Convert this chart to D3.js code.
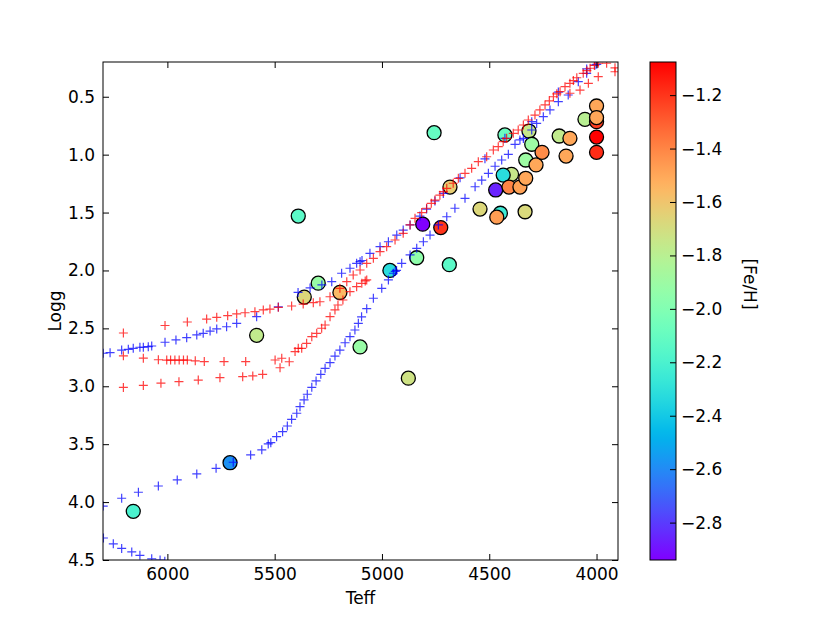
<!DOCTYPE html>
<html>
<head>
<meta charset="utf-8">
<script src="https://cdn.jsdelivr.net/npm/d3@7"></script>
<style>
  body { margin: 0; background: #fff; }
  svg { display: block; font-family: "DejaVu Sans", sans-serif; }
</style>
</head>
<body>
<svg id="chart" width="830" height="623"></svg>
<script>
// ---- stars: Teff, logg, [Fe/H] (drawn in this order) ----
const starTeff = [5390, 5362, 5297, 5196, 5584, 5708, 6159, 5102, 4877, 4963,
  4838, 4686, 4810, 4726, 4757, 4683, 4543, 4448, 4465, 4470,
  4396, 4435, 4408, 4357, 4330, 4333, 4427, 4315, 4302, 4330,
  4282, 4254, 4174, 4124, 4142, 4054, 4000, 4000, 4000, 4000, 4000];
const starLogg = [1.53, 2.23, 2.11, 2.19, 2.56, 3.66, 4.08, 2.66, 2.93, 2.00,
  1.89, 1.95, 1.60, 1.63, 0.81, 1.28, 1.47, 1.506, 1.54, 1.305,
  1.17, 1.176, 1.28, 1.28, 1.204, 1.493, 0.83, 0.796, 0.91, 1.046,
  1.089, 0.98, 0.839, 0.859, 1.012, 0.695, 0.715, 0.58, 0.68, 0.848, 0.98];
const starFeh = [-2.14, -1.67, -1.92, -1.56, -1.77, -2.58, -2.20, -1.92, -1.72, -2.32,
  -1.95, -2.14, -2.94, -1.20, -2.10, -1.63, -1.67, -2.25, -1.47, -2.86,
  -1.75, -2.32, -1.40, -1.48, -1.50, -1.68, -2.08, -1.75, -1.90, -1.90,
  -1.50, -1.42, -1.77, -1.50, -1.50, -1.80, -1.22, -1.50, -1.50, -1.076, -1.18];

// ---- isochrone tracks [Teff, logg] ----
const blueMS = [[6298, 4.31], [6252, 4.36], [6213, 4.40], [6166, 4.43], [6128, 4.46],
  [6073, 4.49], [6034, 4.50], [6012, 4.51]];
const blueRGB = [[6299, 4.034], [6213, 3.967], [6135, 3.915], [6042, 3.861], [5954, 3.809],
  [5863, 3.757], [5773, 3.708], [5693, 3.656], [5612, 3.593], [5560, 3.549], [5530, 3.498],
  [5518, 3.487], [5491, 3.435], [5463, 3.392], [5441, 3.343], [5421, 3.285], [5397, 3.233],
  [5382, 3.176], [5363, 3.118], [5348, 3.069], [5327, 3.009], [5307, 2.954], [5285, 2.897],
  [5265, 2.845], [5242, 2.796], [5219, 2.739], [5196, 2.687], [5172, 2.624], [5149, 2.572],
  [5126, 2.514], [5110, 2.456], [5095, 2.40], [5071, 2.33], [5040, 2.24], [5001, 2.154],
  [4970, 2.082], [4947, 2.024], [4938, 2.008], [4932, 2.0], [4908, 1.938], [4869, 1.866],
  [4838, 1.809], [4807, 1.752], [4776, 1.694], [4737, 1.607], [4698, 1.536], [4660, 1.463],
  [4613, 1.377], [4566, 1.277], [4535, 1.22], [4504, 1.161], [4473, 1.10], [4442, 1.046],
  [4411, 0.997], [4380, 0.911], [4357, 0.873], [4341, 0.86], [4302, 0.787], [4279, 0.73],
  [4248, 0.672], [4217, 0.614], [4178, 0.543], [4132, 0.485], [4085, 0.37], [4046, 0.298],
  [4007, 0.226]];
const blueHB = [[6299, 2.715], [6267, 2.71], [6213, 2.687], [6182, 2.681], [6159, 2.672],
  [6128, 2.663], [6112, 2.663], [6089, 2.658], [6073, 2.652], [6011, 2.62], [5960, 2.60],
  [5910, 2.58], [5863, 2.557], [5833, 2.543], [5801, 2.523], [5770, 2.505], [5724, 2.486],
  [5677, 2.456], [5584, 2.399], [5483, 2.315], [5391, 2.19], [5335, 2.151], [5280, 2.125],
  [5234, 2.097], [5188, 2.024], [5149, 1.981], [5118, 1.938], [5102, 1.924], [5093, 1.914],
  [5056, 1.852], [5009, 1.795], [4970, 1.752], [4931, 1.694], [4901, 1.651], [4869, 1.607],
  [4823, 1.53], [4792, 1.47], [4753, 1.40], [4714, 1.335], [4636, 1.20], [4520, 1.036],
  [4427, 0.859], [4302, 0.715], [4178, 0.46], [4046, 0.26], [3999, 0.22]];
const redHB = [[6205, 2.54], [6011, 2.475], [5907, 2.445], [5817, 2.42], [5770, 2.405],
  [5719, 2.39], [5677, 2.375], [5638, 2.365], [5592, 2.356], [5553, 2.341], [5522, 2.333],
  [5483, 2.318], [5421, 2.307], [5367, 2.29], [5320, 2.278], [5289, 2.27], [5242, 2.227],
  [5196, 2.154], [5164, 2.097], [5134, 2.039], [5102, 1.996], [5071, 1.938], [5040, 1.895],
  [5009, 1.838], [4978, 1.795], [4939, 1.737], [4901, 1.679], [4869, 1.607], [4846, 1.55],
  [4815, 1.50], [4792, 1.463], [4770, 1.42], [4753, 1.392], [4730, 1.35], [4714, 1.32],
  [4698, 1.291], [4668, 1.247], [4644, 1.204], [4613, 1.161], [4582, 1.118], [4551, 1.061],
  [4512, 1.018], [4481, 0.96], [4458, 0.931], [4435, 0.888], [4419, 0.859], [4388, 0.816],
  [4365, 0.787], [4341, 0.744], [4318, 0.701], [4287, 0.658], [4264, 0.614], [4240, 0.571],
  [4220, 0.535], [4201, 0.50], [4185, 0.475], [4170, 0.456], [4147, 0.413], [4124, 0.384],
  [4108, 0.36], [4092, 0.336], [4062, 0.298], [4045, 0.275], [4030, 0.254], [4010, 0.23],
  [3992, 0.211], [3953, 0.211], [3914, 0.25], [4124, 0.47], [4077, 0.442], [4038, 0.384],
  [3992, 0.327], [3914, 0.284]];
const redRGB = [[6205, 2.737], [6112, 2.757], [6042, 2.771], [6003, 2.774], [5985, 2.774],
  [5965, 2.774], [5945, 2.774], [5925, 2.774], [5907, 2.774], [5870, 2.78], [5828, 2.787],
  [5736, 2.787], [5635, 2.787], [5498, 2.773], [5467, 2.758], [5432, 2.788], [5405, 2.70],
  [5390, 2.672], [5374, 2.672], [5351, 2.629], [5327, 2.572], [5304, 2.543], [5281, 2.499],
  [5265, 2.471], [5242, 2.399], [5219, 2.341], [5205, 2.298], [5182, 2.255], [5149, 2.183],
  [5118, 2.14], [5094, 2.111], [5071, 2.082], [5078, 2.09]];
const redLow = [[6205, 3.01], [6112, 2.993], [6030, 2.973], [5946, 2.96], [5856, 2.946],
  [5755, 2.926], [5649, 2.917], [5602, 2.911], [5556, 2.897], [5475, 2.84]];

const teffTicks = [6000, 5500, 5000, 4500, 4000];
const loggTicks = [0.5, 1.0, 1.5, 2.0, 2.5, 3.0, 3.5, 4.0, 4.5];
const fehTicks = [-2.8, -2.6, -2.4, -2.2, -2.0, -1.8, -1.6, -1.4, -1.2];

// ---- layout ----
const plot = { left: 103, right: 618, top: 62, bottom: 560 };
const cbar = { left: 650, right: 676 };

const svg = d3.select('#chart');

const x = d3.scaleLinear().domain([6300, 3900]).range([plot.left, plot.right]);
const y = d3.scaleLinear().domain([0.2, 4.5]).range([plot.top, plot.bottom]);
const fehExtent = d3.extent(starFeh);
const c = d3.scaleLinear().domain(fehExtent).range([plot.bottom, plot.top]);

// matplotlib "rainbow" colormap
function rainbow(t) {
  const cl = v => Math.max(0, Math.min(1, v));
  const r = cl(Math.abs(2 * t - 0.5));
  const g = cl(Math.sin(Math.PI * t));
  const b = cl(Math.cos(Math.PI * t / 2));
  return d3.rgb(r * 255, g * 255, b * 255).formatHex();
}
const color = v => rainbow((v - fehExtent[0]) / (fehExtent[1] - fehExtent[0]));

const defs = svg.append('defs');
defs.append('clipPath').attr('id', 'clip')
  .append('rect')
  .attr('x', plot.left).attr('y', plot.top)
  .attr('width', plot.right - plot.left).attr('height', plot.bottom - plot.top);

const grad = defs.append('linearGradient').attr('id', 'cgrad')
  .attr('x1', 0).attr('y1', 1).attr('x2', 0).attr('y2', 0);
grad.selectAll('stop')
  .data(d3.range(0, 1.0001, 0.02))
  .join('stop')
  .attr('offset', d => d)
  .attr('stop-color', d => rainbow(d));

// ---- stars (under the tracks) ----
const gData = svg.append('g').attr('clip-path', 'url(#clip)');

gData.append('g').selectAll('circle')
  .data(starTeff.map((t, i) => ({ t, g: starLogg[i], f: starFeh[i] })))
  .join('circle')
  .attr('cx', d => x(d.t))
  .attr('cy', d => y(d.g))
  .attr('r', 7)
  .attr('fill', d => color(d.f))
  .attr('stroke', '#000')
  .attr('stroke-width', 1.3);

// ---- tracks as + markers ----
const plusPath = 'M-4.5,0H4.5M0,-4.5V4.5';
function drawTrack(pts, col) {
  gData.append('g').selectAll('path')
    .data(pts)
    .join('path')
    .attr('d', plusPath)
    .attr('transform', d => `translate(${x(d[0])},${y(d[1])})`)
    .attr('fill', 'none')
    .attr('stroke', col)
    .attr('stroke-width', 1.2)
    .attr('stroke-opacity', 0.75);
}
drawTrack(blueMS, '#0000ff');
drawTrack(blueRGB, '#0000ff');
drawTrack(blueHB, '#0000ff');
drawTrack(redHB, '#ff0000');
drawTrack(redRGB, '#ff0000');
drawTrack(redLow, '#ff0000');

// ---- axes (matplotlib classic: ticks inside, all four sides) ----
function styleAxis(g) {
  g.select('.domain').remove();
  g.selectAll('.tick line').attr('stroke', '#000').attr('stroke-width', 1);
  g.selectAll('text').attr('font-size', 17).attr('fill', '#000')
    .attr('font-family', '"DejaVu Sans", sans-serif');
}

svg.append('g')
  .attr('transform', `translate(0,${plot.bottom})`)
  .call(d3.axisBottom(x).tickValues(teffTicks).tickFormat(d3.format('d'))
    .tickSize(-6).tickPadding(8))
  .call(styleAxis);
svg.append('g')
  .attr('transform', `translate(0,${plot.top})`)
  .call(d3.axisTop(x).tickValues(teffTicks).tickFormat('').tickSize(-6))
  .call(styleAxis);
svg.append('g')
  .attr('transform', `translate(${plot.left},0)`)
  .call(d3.axisLeft(y).tickValues(loggTicks).tickFormat(d3.format('.1f'))
    .tickSize(-6).tickPadding(8))
  .call(styleAxis);
svg.append('g')
  .attr('transform', `translate(${plot.right},0)`)
  .call(d3.axisRight(y).tickValues(loggTicks).tickFormat('').tickSize(-6))
  .call(styleAxis);

svg.append('rect')
  .attr('x', plot.left).attr('y', plot.top)
  .attr('width', plot.right - plot.left).attr('height', plot.bottom - plot.top)
  .attr('fill', 'none').attr('stroke', '#000').attr('stroke-width', 1);

svg.append('text')
  .attr('x', (plot.left + plot.right) / 2).attr('y', 604)
  .attr('text-anchor', 'middle').attr('font-size', 17)
  .text('Teff');
svg.append('text')
  .attr('transform', `translate(61,${(plot.top + plot.bottom) / 2}) rotate(-90)`)
  .attr('text-anchor', 'middle').attr('font-size', 17)
  .text('Logg');

// ---- colorbar ----
svg.append('rect')
  .attr('x', cbar.left).attr('y', plot.top)
  .attr('width', cbar.right - cbar.left).attr('height', plot.bottom - plot.top)
  .attr('fill', 'url(#cgrad)')
  .attr('stroke', '#000').attr('stroke-width', 1);

svg.append('g')
  .attr('transform', `translate(${cbar.right},0)`)
  .call(d3.axisRight(c).tickValues(fehTicks).tickFormat(d3.format('.1f'))
    .tickSize(-6).tickPadding(5))
  .call(styleAxis);

svg.append('text')
  .attr('transform', `translate(744,${(plot.top + plot.bottom) / 2 - 27}) rotate(90)`)
  .attr('text-anchor', 'middle').attr('font-size', 17)
  .text('[Fe/H]');
</script>
</body>
</html>
